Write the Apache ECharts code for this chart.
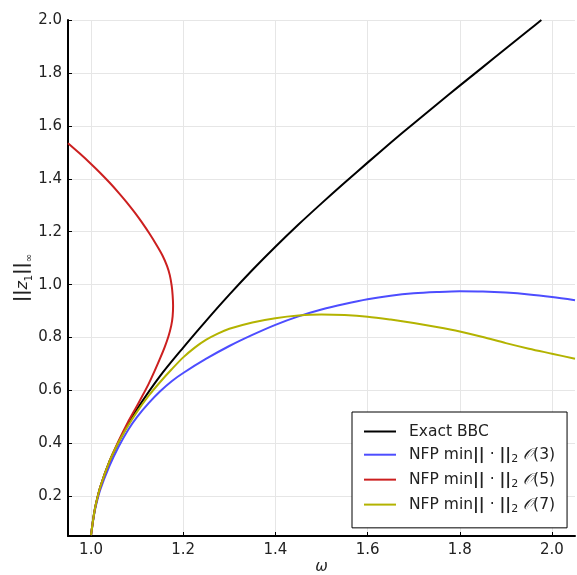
<!DOCTYPE html>
<html>
<head>
<meta charset="utf-8">
<script src="https://cdn.jsdelivr.net/npm/echarts@6/dist/echarts.min.js"></script>
<style>html,body{margin:0;padding:0;background:#fff}#c{width:577px;height:575px}</style>
</head>
<body>
<div id="c"></div>
<script>
// ---- data ----
const xTicks = [1.0, 1.2, 1.4, 1.6, 1.8, 2.0];
const yTicks = [0.2, 0.4, 0.6, 0.8, 1.0, 1.2, 1.4, 1.6, 1.8, 2.0];

const exactW = [1.0, 1.005, 1.01, 1.02, 1.04, 1.06, 1.08, 1.10, 1.15, 1.20, 1.25, 1.30, 1.35, 1.40, 1.45, 1.50, 1.55, 1.60, 1.65, 1.70, 1.75, 1.80, 1.85, 1.90, 1.95, 1.977];
const exactV = [0.053, 0.117, 0.166, 0.235, 0.332, 0.405, 0.47, 0.53, 0.655, 0.762, 0.864, 0.962, 1.055, 1.143, 1.227, 1.307, 1.385, 1.461, 1.536, 1.609, 1.681, 1.752, 1.822, 1.892, 1.962, 2.0];

const o3W = [1.0, 1.005, 1.01, 1.02, 1.04, 1.06, 1.08, 1.10, 1.125, 1.15, 1.175, 1.20, 1.25, 1.30, 1.35, 1.40, 1.45, 1.50, 1.55, 1.60, 1.65, 1.70, 1.75, 1.80, 1.85, 1.90, 1.95, 2.00, 2.05];
const o3V = [0.053, 0.115, 0.16, 0.225, 0.315, 0.388, 0.45, 0.5, 0.552, 0.597, 0.635, 0.666, 0.72, 0.768, 0.81, 0.848, 0.88, 0.906, 0.927, 0.945, 0.958, 0.967, 0.972, 0.975, 0.974, 0.97, 0.963, 0.953, 0.941];

const o5W = [1.0, 1.005, 1.01, 1.02, 1.04, 1.06, 1.08, 1.095, 1.11, 1.125, 1.138, 1.15, 1.16, 1.168, 1.174, 1.177, 1.178, 1.177, 1.175, 1.171, 1.165, 1.155, 1.143, 1.127, 1.11, 1.095, 1.077, 1.06, 1.041, 1.02, 1.0, 0.975, 0.95];
const o5V = [0.053, 0.117, 0.166, 0.235, 0.332, 0.41, 0.48, 0.527, 0.575, 0.625, 0.674, 0.722, 0.765, 0.805, 0.845, 0.88, 0.92, 0.96, 0.995, 1.035, 1.07, 1.11, 1.147, 1.192, 1.236, 1.272, 1.312, 1.347, 1.384, 1.422, 1.456, 1.496, 1.534];

const o7W = [1.0, 1.005, 1.01, 1.02, 1.04, 1.06, 1.08, 1.10, 1.125, 1.15, 1.175, 1.20, 1.225, 1.25, 1.275, 1.30, 1.35, 1.40, 1.45, 1.50, 1.55, 1.60, 1.65, 1.70, 1.75, 1.80, 1.85, 1.90, 1.95, 2.00, 2.05];
const o7V = [0.053, 0.117, 0.166, 0.235, 0.332, 0.405, 0.466, 0.52, 0.58, 0.632, 0.68, 0.725, 0.762, 0.792, 0.815, 0.833, 0.857, 0.873, 0.883, 0.887, 0.885, 0.879, 0.868, 0.855, 0.84, 0.823, 0.802, 0.779, 0.758, 0.739, 0.72];

const seriesNames = ['Exact BBC', 'NFP3', 'NFP5', 'NFP7'];
const seriesColors = ['#000000', '#4d4dff', '#cc1f1f', '#b3b300'];

function zip(a, b) { return a.map((v, i) => [v, b[i]]); }

const legendLabels = {
  'Exact BBC': '{n|Exact BBC}',
  'NFP3': '{n|NFP min}{b|||}{n| · }{b|||}{s|2}{n| }{o|𝒪}{n|(3)}',
  'NFP5': '{n|NFP min}{b|||}{n| · }{b|||}{s|2}{n| }{o|𝒪}{n|(5)}',
  'NFP7': '{n|NFP min}{b|||}{n| · }{b|||}{s|2}{n| }{o|𝒪}{n|(7)}'
};

const FONT = 'DejaVu Sans';
const chart = echarts.init(document.getElementById('c'), null, {renderer: 'canvas'});
const datasets = [zip(exactW, exactV), zip(o3W, o3V), zip(o5W, o5V), zip(o7W, o7V)];

chart.setOption({
  animation: false,
  backgroundColor: '#ffffff',
  grid: {left: 68, right: 2, top: 20, bottom: 39, containLabel: false, outerBoundsMode: 'none'},
  xAxis: {
    type: 'value', min: 0.95, max: 2.05,
    name: 'ω', nameLocation: 'middle', nameGap: 24, nameMoveOverlap: false,
    nameTextStyle: {fontFamily: FONT, fontSize: 15, fontStyle: 'italic', color: '#222'},
    axisLine: {show: true, onZero: false, lineStyle: {color: '#000', width: 2}},
    axisTick: {show: true, inside: true, length: 4, lineStyle: {color: '#000', width: 1}, customValues: xTicks},
    axisLabel: {customValues: xTicks, formatter: v => v.toFixed(1), fontFamily: FONT, fontSize: 15, color: '#222', margin: 7},
    splitLine: {show: true, lineStyle: {color: '#e6e6e6', width: 1}}
  },
  yAxis: {
    type: 'value', min: 0.05, max: 2.0,
    name: '{b|||}{z|z}{s|1}{b|||}{s|∞}', nameLocation: 'middle', nameGap: 34, nameRotate: 90, nameMoveOverlap: false,
    nameTextStyle: {
      fontFamily: FONT, color: '#222',
      rich: {
        b: {fontFamily: FONT, fontSize: 17, fontWeight: 'bold', color: '#222', lineHeight: 22},
        z: {fontFamily: FONT, fontSize: 16, fontStyle: 'italic', color: '#222', lineHeight: 22},
        s: {fontFamily: FONT, fontSize: 10, color: '#222', lineHeight: 22, verticalAlign: 'bottom'}
      }
    },
    axisLine: {show: true, onZero: false, lineStyle: {color: '#000', width: 2}},
    axisTick: {show: true, inside: true, length: 4, lineStyle: {color: '#000', width: 1}, customValues: yTicks},
    axisLabel: {customValues: yTicks, formatter: v => v.toFixed(1), fontFamily: FONT, fontSize: 15, color: '#222', margin: 6},
    splitLine: {show: true, lineStyle: {color: '#e6e6e6', width: 1}}
  },
  legend: {
    orient: 'vertical', left: 352, top: 412,
    padding: [11.5, 12, 13.5, 12],
    itemGap: 7.2, itemWidth: 32, itemHeight: 2, icon: 'rect',
    backgroundColor: '#fff', borderColor: '#000', borderWidth: 1, borderRadius: 0,
    data: seriesNames,
    formatter: name => legendLabels[name],
    textStyle: {
      fontFamily: FONT, fontSize: 15.5, color: '#222', padding: [0, 0, 0, 8],
      rich: {
        n: {fontFamily: FONT, fontSize: 15.5, color: '#222', lineHeight: 19.5},
        b: {fontFamily: FONT, fontSize: 16, fontWeight: 'bold', color: '#222', lineHeight: 19.5},
        s: {fontFamily: FONT, fontSize: 11, color: '#222', lineHeight: 19.5, verticalAlign: 'bottom'},
        o: {fontFamily: FONT, fontSize: 15.5, fontStyle: 'italic', color: '#222', lineHeight: 19.5}
      }
    }
  },
  series: seriesNames.map((nm, i) => ({
    name: nm, type: 'line', data: datasets[i],
    showSymbol: false, symbol: 'none', smooth: 0.3, clip: true,
    lineStyle: {color: seriesColors[i], width: 2},
    itemStyle: {color: seriesColors[i]},
    z: 2 + i
  }))
});
</script>
</body>
</html>
